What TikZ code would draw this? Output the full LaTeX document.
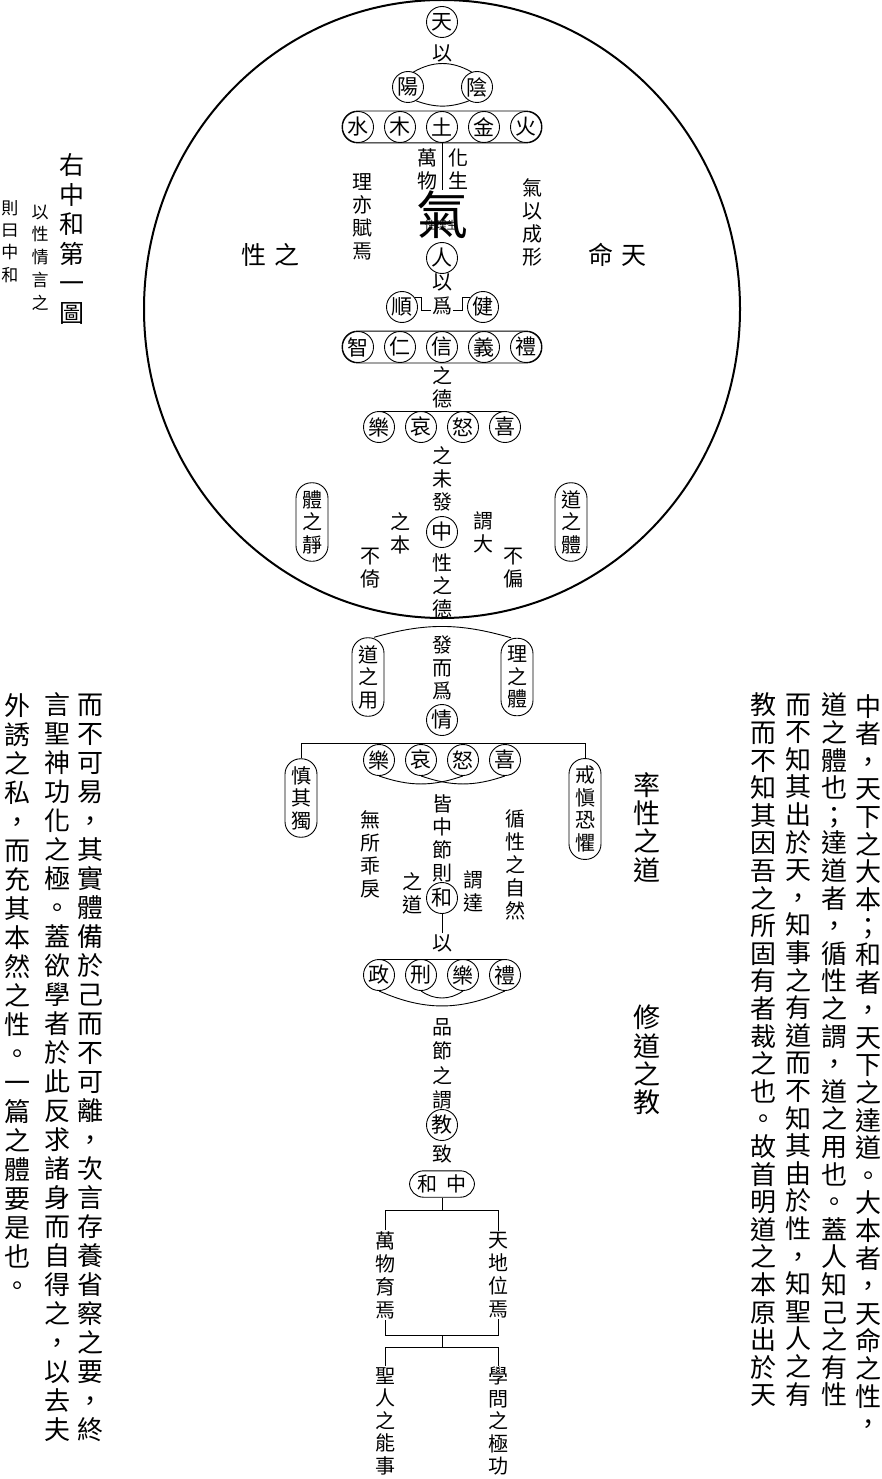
\documentclass[tikz,border=0pt]{standalone}
\usepackage{fontspec}
\setmainfont{Noto Sans CJK TC}
\usepackage{tikz}
\usetikzlibrary{positioning}
\newcommand\vchars[1]{\vcharsA#1\vcharsEnd}
\def\vcharsA#1#2\vcharsEnd{#1\ifx\relax#2\relax\else\\\vcharsA#2\vcharsEnd\fi}
\tikzset{
  wire/.style={line width=0.9pt},
  ring/.style={circle,draw,fill=white,line width=0.9pt,minimum size=31pt,inner sep=0pt,font=\fontsize{21}{21}\selectfont},
  vcol/.style={align=center,inner sep=1pt,font=\fontsize{20}{23}\selectfont},
  pill/.style={draw,line width=0.9pt,rounded corners=15.5pt,minimum width=32pt,inner xsep=0pt,inner ysep=7.5pt,align=center,font=\fontsize{20}{22.5}\selectfont},
  bigcol/.style={align=center,inner sep=0pt,font=\fontsize{27}{28.3}\selectfont},
  prose/.style={align=center,inner sep=0pt,font=\fontsize{26}{27.6}\selectfont},
  leftprose/.style={prose,font=\fontsize{26}{29}\selectfont}
}
\begin{document}
\begin{tikzpicture}[x=1pt,y=-1pt]
\useasboundingbox (0,0) rectangle (882,1479);
\draw[line width=2pt] (442,309) ellipse [x radius=298, y radius=309];
\node[ring] (tian) at (442,22) {天};
\node[vcol] (yi1) at (442,53) {以};
\node[ring] (yang) at (408,87) {陽};
\node[ring] (yin) at (477,87) {陰};
\draw[wire] (yang.70) to[bend left=30] (yin.110);
\draw[wire] (yang.-60) to[bend right=20] (yin.-120);
\foreach \t/\x [count=\i] in {水/358,木/400,土/442,金/484,火/526}
  \node[ring] (wx\i) at (\x,127) {\t};
\draw[wire,rounded corners=15.5pt] (wx1.west |- wx1.north) rectangle (wx5.east |- wx5.south);
\coordinate (qitop) at (442,190);
\draw[wire] (wx3.south) -- (qitop);
\node[vcol] (wanwu) at (427,169) {\vchars{萬物}};
\node[vcol] (huasheng) at (458,169) {\vchars{化生}};
\node[vcol] (liyi) at (362,216.5) {\vchars{理亦賦焉}};
\node[vcol] (qiyi) at (532,222.5) {\vchars{氣以成形}};
\node[inner sep=0pt,font=\fontsize{52}{52}\selectfont] (qi) at (442,215) {氣};
\node[inner sep=0pt,font=\fontsize{11}{11}\selectfont] (qili) at (441,225) {性理生};
\node[font=\fontsize{25}{25}\selectfont] (xingzhi) at (270,255) {性\hspace{8pt}之};
\node[font=\fontsize{25}{25}\selectfont] (mingtian) at (617,255) {命\hspace{8pt}天};
\node[ring] (ren) at (442,258) {人};
\node[vcol] (yi2) at (442,282) {以};
\node[vcol] (wei) at (442,306) {爲};
\node[ring] (shun) at (402,307) {順};
\node[ring] (jian) at (483,307) {健};
\draw[wire] (shun.35) -| ([xshift=-9pt,yshift=-4pt]wei.west) -- ([yshift=-4pt]wei.west);
\draw[wire] (jian.145) -| ([xshift=9pt,yshift=-4pt]wei.east) -- ([yshift=-4pt]wei.east);
\foreach \t/\x [count=\i] in {智/358,仁/400,信/442,義/484,禮/526}
  \node[ring] (wc\i) at (\x,347) {\t};
\draw[wire,rounded corners=15.5pt] (wc1.west |- wc1.north) rectangle (wc5.east |- wc5.south);
\node[vcol] (zhide) at (442,387) {\vchars{之德}};
\foreach \t/\x [count=\i] in {樂/379,哀/421,怒/463,喜/505}
  \node[ring] (qa\i) at (\x,427) {\t};
\draw[wire] (qa1.north) -- (qa4.north);
\node[vcol] (weifa) at (442,479) {\vchars{之未發}};
\node[ring] (zhong) at (442,532) {中};
\node[vcol] (xingde) at (442,585.5) {\vchars{性之德}};
\node[vcol] (zhiben) at (400,533.5) {\vchars{之本}};
\node[vcol] (buyi) at (370,568.5) {\vchars{不倚}};
\node[vcol] (weida) at (483,532.5) {\vchars{謂大}};
\node[vcol] (bupian) at (513,568.5) {\vchars{不偏}};
\node[pill] (tijing) at (312,522) {\vchars{體之靜}};
\node[pill] (daoti) at (571,522) {\vchars{道之體}};
\node[pill] (daoyong) at (368,677) {\vchars{道之用}};
\node[pill] (liti) at (517,677) {\vchars{理之體}};
\draw[wire] ([xshift=6pt]daoyong.north) to[bend left=16] ([xshift=-6pt]liti.north);
\node[vcol] (faer) at (442,668) {\vchars{發而爲}};
\node[ring] (qing) at (442,720) {情};
\foreach \t/\x [count=\i] in {樂/379,哀/421,怒/463,喜/505}
  \node[ring] (qb\i) at (\x,760) {\t};
\draw[wire] (qb1.south) to[bend right=19] (qb3.south);
\draw[wire] (qb2.south) to[bend right=19] (qb4.south);
\node[pill] (shendu) at (301,798) {\vchars{慎其獨}};
\node[pill] (jieshen) at (585,809) {\vchars{戒愼恐懼}};
\coordinate (qbar) at (442,743.5);
\draw[wire] (shendu.north) |- (qbar) -| (jieshen.north);
\node[bigcol] (shuaixing) at (647,827.5) {\vchars{率性之道}};
\node[bigcol] (xiudao) at (647,1060) {\vchars{修道之教}};
\node[vcol] (jiezhong) at (442,838) {\vchars{皆中節則}};
\node[ring] (he) at (442,898) {和};
\node[vcol] (zhidao) at (412,893.5) {\vchars{之道}};
\node[vcol] (weida2) at (473,891.5) {\vchars{謂達}};
\node[vcol] (wusuo) at (370,854) {\vchars{無所乖戾}};
\node[vcol] (xunxing) at (515,865) {\vchars{循性之自然}};
\node[vcol] (yi4) at (442,943) {以};
\draw[wire] (he.south) -- (yi4.north);
\foreach \t/\x [count=\i] in {政/379,刑/421,樂/463,禮/505}
  \node[ring] (zx\i) at (\x,975) {\t};
\draw[wire] (zx1.north) -- (zx4.north);
\draw[wire] (zx1.south) to[bend right=24] (zx4.south);
\draw[wire] (zx2.south) to[bend right=35] (zx3.south);
\node[vcol,font=\fontsize{20}{24.5}\selectfont] (pinjie) at (442,1064) {\vchars{品節之謂}};
\node[ring] (jiao) at (442,1125) {教};
\node[vcol] (zhi) at (442,1154) {致};
\node[pill,inner xsep=8pt,inner ysep=4pt,rounded corners=14pt] (zhonghe) at (442,1184) {和\hspace{9pt}中};
\coordinate (ja) at (442,1210);
\draw[wire] (zhonghe.south) -- (ja);
\node[vcol] (yu) at (385,1275) {\vchars{萬物育焉}};
\node[vcol] (wei2) at (498,1275) {\vchars{天地位焉}};
\draw[wire] (yu.north) |- (ja) -| (wei2.north);
\coordinate (jb) at (442,1335);
\coordinate (jc) at (442,1347);
\draw[wire] (yu.south) |- (jb) -| (wei2.south);
\draw[wire] (jb) -- (jc);
\node[vcol,font=\fontsize{20}{22.5}\selectfont] (nengshi) at (385,1421) {\vchars{聖人之能事}};
\node[vcol,font=\fontsize{20}{22.5}\selectfont] (jigong) at (498,1421) {\vchars{學問之極功}};
\draw[wire] (nengshi.north) |- (jc) -| (jigong.north);
\node[align=center,inner sep=0pt,font=\fontsize{25}{29.6}\selectfont] (title) at (72,239) {\vchars{右中和第一圖}};
\node[align=center,inner sep=0pt,font=\fontsize{17}{22.75}\selectfont] (yixing) at (40,257.5) {\vchars{以性情言之}};
\node[align=center,inner sep=0pt,font=\fontsize{17}{22.3}\selectfont] (zeyue) at (10,241.5) {\vchars{則曰中和}};
\node[leftprose] (l1) at (90,1067.5) {\vchars{而不可易，其實體備於己而不可離，次言存養省察之要，終}};
\node[leftprose] (l2) at (57,1067.5) {\vchars{言聖神功化之極。蓋欲學者於此反求諸身而自得之，以去夫}};
\node[leftprose] (l3) at (18,995) {\vchars{外誘之私，而充其本然之性。一篇之體要是也。}};
\node[prose] (r1) at (868,1064) {\vchars{中者，天下之大本；和者，天下之達道。大本者，天命之性，}};
\node[prose] (r2) at (834,1050) {\vchars{道之體也；達道者，循性之謂，道之用也。蓋人知己之有性}};
\node[prose] (r3) at (798,1050) {\vchars{而不知其出於天，知事之有道而不知其由於性，知聖人之有}};
\node[prose] (r4) at (763,1050) {\vchars{教而不知其因吾之所固有者裁之也。故首明道之本原出於天}};
\end{tikzpicture}
\end{document}
